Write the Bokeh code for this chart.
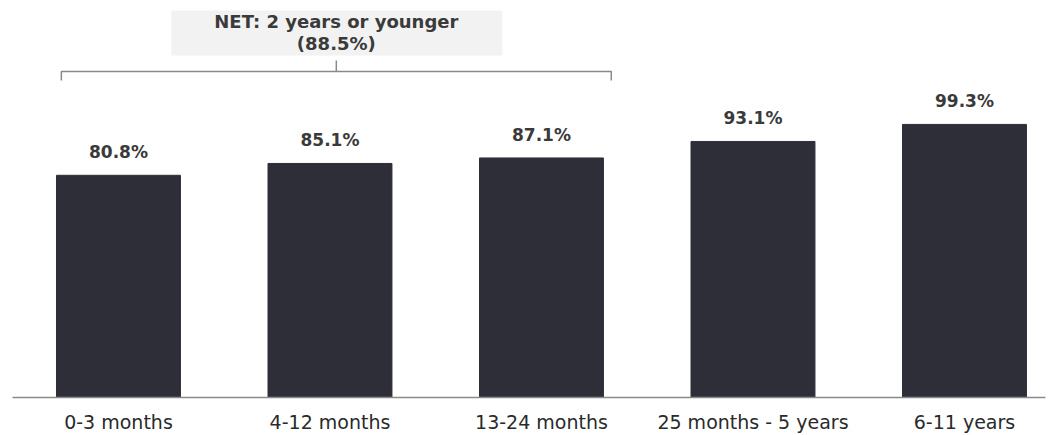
from bokeh.plotting import figure
from bokeh.models import Range1d, FixedTicker, ColumnDataSource
from bokeh.core.properties import value
from bokeh.embed import file_html
from bokeh.resources import INLINE

categories = ["0-3 months", "4-12 months", "13-24 months", "25 months - 5 years", "6-11 years"]
values = [80.8, 85.1, 87.1, 93.1, 99.3]
labels = ["80.8%", "85.1%", "87.1%", "93.1%", "99.3%"]
net_label = ["NET: 2 years or younger", "(88.5%)"]
net_group = [0, 1, 2]

FONT = "DejaVu Sans"
BAR = "#2e2e38"
TXT = "#3a3a3a"

xs = list(range(len(categories)))
src = ColumnDataSource(dict(x=xs, top=values, lab=labels))

p = figure(width=1051, height=435, output_backend="svg", toolbar_location=None,
           x_range=Range1d(-0.501, 4.383), y_range=Range1d(0, 141.45),
           min_border_left=12, min_border_right=6, min_border_top=8, min_border_bottom=30)
p.outline_line_color = None
p.grid.visible = False
p.yaxis.visible = False

p.vbar(x="x", top="top", width=0.586, bottom=0, source=src, fill_color=BAR, line_color=BAR)
p.text(x="x", y="top", text="lab", source=src, text_align="center", text_baseline="alphabetic",
       y_offset=-23, text_font=value(FONT), text_font_style="bold", text_font_size="17px",
       text_color=TXT)

# x axis
p.xaxis.ticker = FixedTicker(ticks=xs)
p.xaxis.major_label_overrides = {i: c for i, c in enumerate(categories)}
p.xaxis.major_tick_line_color = None
p.xaxis.minor_tick_line_color = None
p.xaxis.major_tick_out = 0
p.xaxis.major_tick_in = 0
p.xaxis.minor_tick_out = 0
p.xaxis.axis_line_color = "#8a8a8a"
p.xaxis.axis_line_width = 1.5
p.xaxis.major_label_text_font = FONT
p.xaxis.major_label_text_font_size = "19px"
p.xaxis.major_label_text_color = "#2a2a2a"
p.xaxis.major_label_text_line_height = 1.0
p.xaxis.major_label_standoff = 13

# bracket over NET group
bx0 = net_group[0] - 0.27
bx1 = net_group[-1] + 0.33
bc = (bx0 + bx1) / 2
by = 118.5
p.line(x=[bx0, bx0, bx1, bx1], y=[115.3, by, by, 115.3], line_color="#8a8a8a", line_width=1.5)
p.line(x=[bc, bc], y=[by, 122.5], line_color="#8a8a8a", line_width=1.5)

# grey box with NET label
p.quad(left=[bc - 0.78], right=[bc + 0.785], bottom=[124.4], top=[140.7],
       fill_color="#f2f2f2", line_color=None)
p.text(x=[bc], y=[136.7], text=[net_label[0]], text_align="center",
       text_baseline="alphabetic", text_font=value(FONT), text_font_style="bold",
       text_font_size="18px", text_color=TXT)
p.text(x=[bc], y=[128.9], text=[net_label[1]], text_align="center",
       text_baseline="alphabetic", text_font=value(FONT), text_font_style="bold",
       text_font_size="18px", text_color=TXT)

open("out.html", "w").write(file_html(p, INLINE))
